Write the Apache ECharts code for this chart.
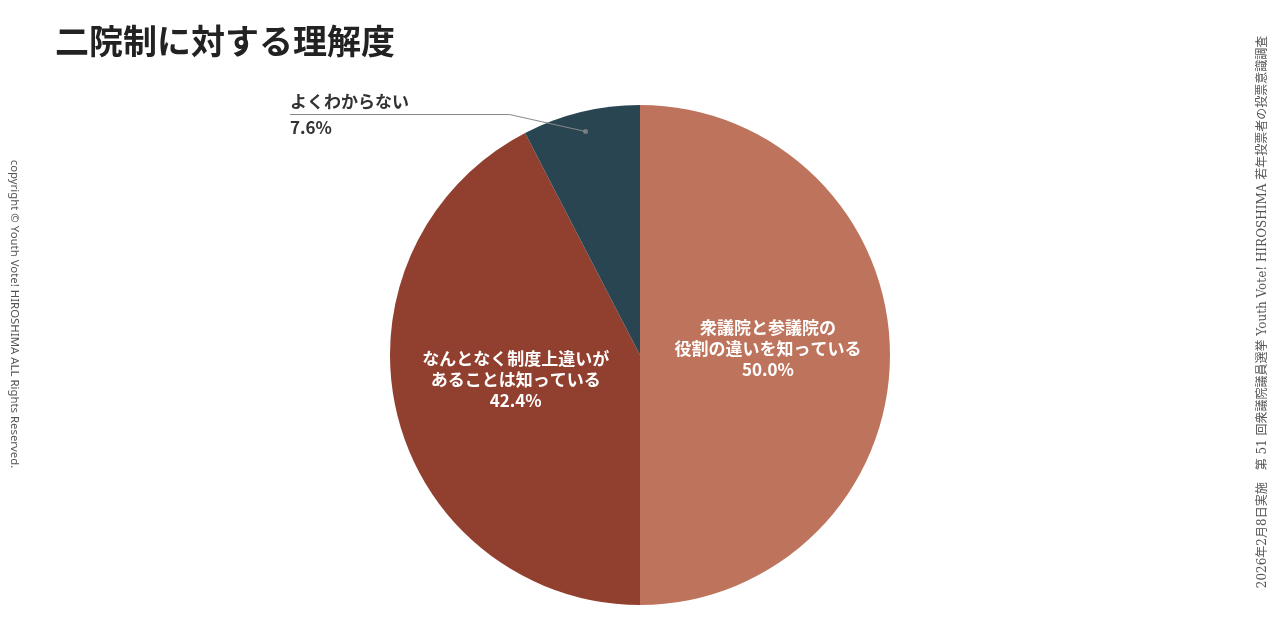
<!DOCTYPE html>
<html>
<head>
<meta charset="utf-8">
<script src="https://cdn.jsdelivr.net/npm/echarts@6/dist/echarts.min.js"></script>
<style>html,body{margin:0;padding:0;background:#fff}#c{width:1280px;height:630px}</style>
</head>
<body>
<div id="c"></div>
<script>
const titleText = '二院制に対する理解度';
const categories = ['衆議院と参議院の\n役割の違いを知っている', 'なんとなく制度上違いが\nあることは知っている', 'よくわからない'];
const values = [50.0, 42.4, 7.6];
const colors = ['#BE745C', '#913F2E', '#284551'];
const sideNote = '2026年2月8日実施　第 51 回衆議院議員選挙 Youth Vote! HIROSHIMA 若年投票者の投票意識調査';
const copyright = 'copyright © Youth Vote! HIROSHIMA ALL Rights Reserved.';

const FONT = '"Noto Sans CJK JP", "Noto Sans", sans-serif';
const chart = echarts.init(document.getElementById('c'));
const W = chart.getWidth();
const CX = W / 2, CY = 355, R = 250, DOT_R = 230;
const OUTSIDE = [2]; // items labelled outside the pie

// angle (percent of circle) of the middle of each slice
const total = values.reduce((a, b) => a + b, 0);
let cum = 0;
const mids = values.map(v => { const m = (cum + v / 2) / total * 100; cum += v; return m; });

const mainData = categories.map((n, i) => ({
  name: n, value: values[i], itemStyle: { color: colors[i] },
  label: { show: OUTSIDE.indexOf(i) < 0 }
}));

const overlayData = categories.map((n, i) => {
  const out = OUTSIDE.indexOf(i) >= 0;
  return {
    name: n, value: values[i],
    itemStyle: { color: 'rgba(0,0,0,0)' },
    label: { show: out },
    labelLine: { show: out }
  };
});

chart.setOption({
  backgroundColor: '#fff',
  animation: false,
  title: {
    text: titleText, left: 50, top: 19,
    textStyle: { fontFamily: FONT, fontSize: 34, fontWeight: 'bold', color: '#222' }
  },
  polar: { center: [CX, CY], radius: R },
  angleAxis: { type: 'value', min: 0, max: 100, startAngle: 90, clockwise: true, show: false },
  radiusAxis: { type: 'value', min: 0, max: R, show: false },
  series: [
    {
      type: 'pie',
      center: [CX, CY],
      radius: R,
      startAngle: 90,
      clockwise: true,
      data: mainData,
      label: {
        position: 'inside', color: '#fff', fontSize: 17, fontWeight: 'bold',
        fontFamily: FONT, lineHeight: 21, offset: [0, -6],
        formatter: p => p.name + '\n' + p.value.toFixed(1) + '%'
      },
      labelLine: { show: false },
      emphasis: { disabled: true },
      silent: true
    },
    {
      type: 'pie',
      z: 5,
      center: [CX, CY],
      radius: DOT_R,
      startAngle: 90,
      clockwise: true,
      data: overlayData,
      label: {
        position: 'outside', color: '#333', fontSize: 17, fontWeight: 'bold',
        fontFamily: FONT, lineHeight: 26, align: 'left',
        formatter: p => p.name + '\n' + p.value.toFixed(1) + '%'
      },
      labelLine: { lineStyle: { color: '#888', width: 1 } },
      labelLayout: function (params) {
        if (!params.labelLinePoints) return {};
        const a = params.labelLinePoints[0];
        const b = [a[0] - 76, a[1] - 17];
        const c = [290, b[1]];
        return {
          x: c[0], y: c[1], align: 'left', verticalAlign: 'middle',
          labelLinePoints: [a, b, c]
        };
      },
      emphasis: { disabled: true },
      silent: true
    },
    {
      type: 'scatter',
      coordinateSystem: 'polar',
      data: OUTSIDE.map(i => [DOT_R, mids[i]]),
      symbolSize: 5,
      itemStyle: { color: '#888' },
      z: 10,
      silent: true
    }
  ],
  graphic: [
    {
      type: 'text', x: 1263, y: 312, rotation: Math.PI / 2,
      style: {
        text: sideNote, fill: '#555', fontSize: 12, fontWeight: 'normal',
        fontFamily: '"DejaVu Serif", "Liberation Serif", "Noto Sans CJK JP", serif',
        align: 'center', verticalAlign: 'middle'
      }
    },
    {
      type: 'text', x: 14, y: 314, rotation: -Math.PI / 2,
      style: {
        text: copyright, fill: '#555', fontSize: 11.4,
        fontFamily: '"Noto Sans", sans-serif',
        align: 'center', verticalAlign: 'middle'
      }
    }
  ]
});
</script>
</body>
</html>
